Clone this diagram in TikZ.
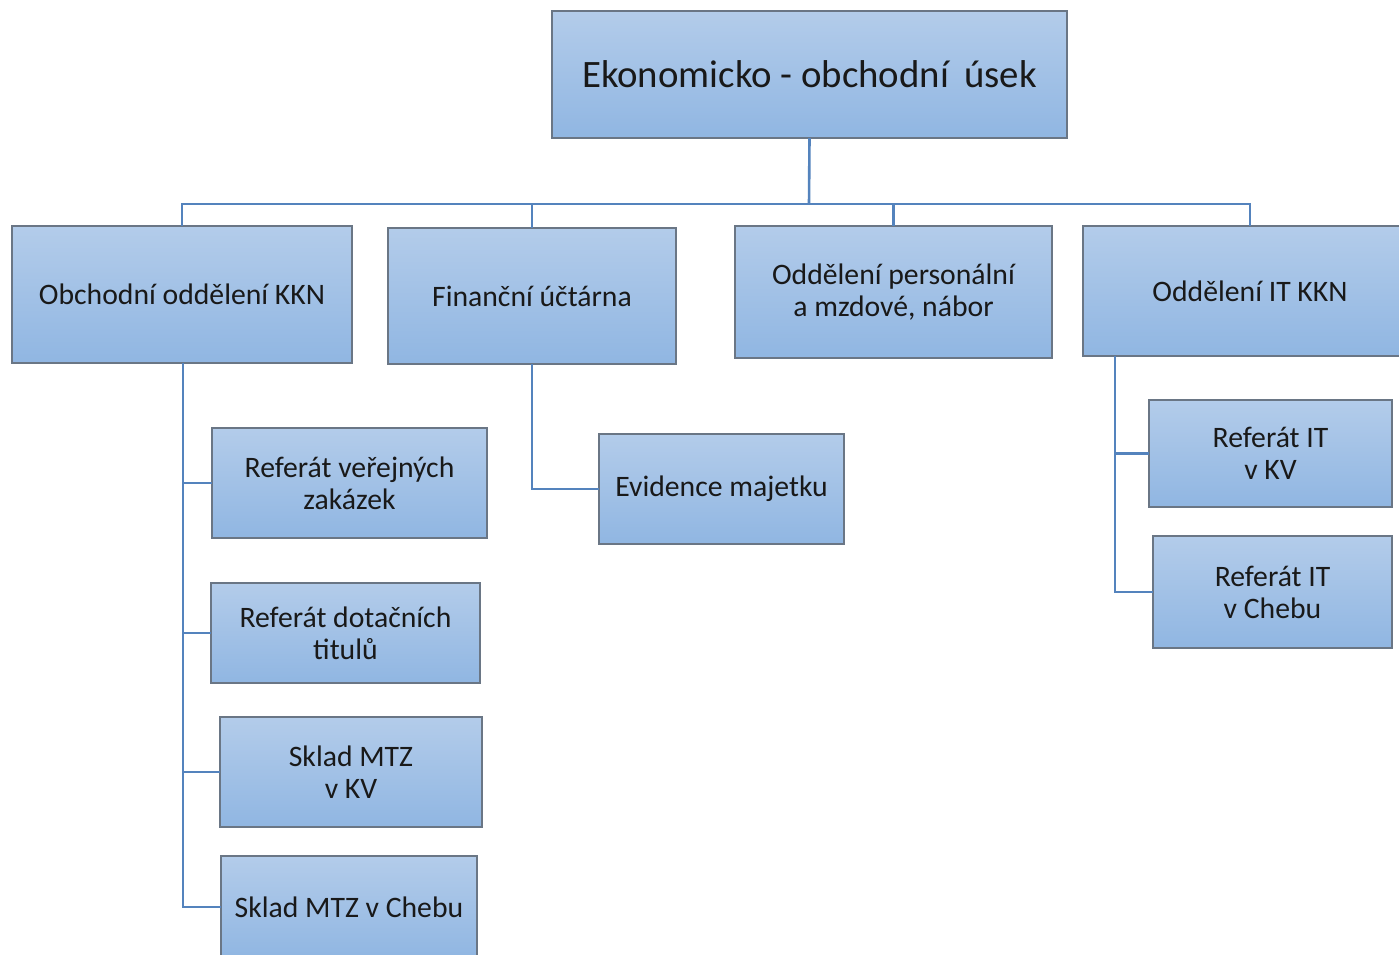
\documentclass[tikz,border=0pt]{standalone}
\usepackage{fontspec}
\setmainfont{Carlito}
\definecolor{boxtop}{HTML}{B3CCEA}
\definecolor{boxbot}{HTML}{90B6E2}
\definecolor{boxline}{HTML}{6A7685}
\definecolor{conncol}{HTML}{5483BD}
\begin{document}
\begin{tikzpicture}[x=1pt,y=-1pt,
  orgbox/.style={rectangle, draw=boxline, line width=1.5pt, top color=boxtop, bottom color=boxbot,
    align=center, font=\fontsize{29.7}{32}\selectfont, text=black!90, inner sep=0pt, outer sep=0pt},
  conn/.style={draw=conncol, line width=2.6pt}]
\clip (0,0) rectangle (1399,954);
\fill[white] (0,0) rectangle (1399,954);
\node[orgbox, minimum width=515pt, minimum height=127pt, font=\fontsize{38.8}{42}\selectfont] (top) at (809.5,74.5) {\raisebox{-2pt}{Ekonomicko - obchodní\, úsek}};
\node[orgbox, minimum width=340pt, minimum height=137pt] (n1) at (182,294.5) {Obchodní oddělení KKN};
\node[orgbox, minimum width=288pt, minimum height=136pt] (n2) at (532,296) {Finanční účtárna};
\node[orgbox, minimum width=317pt, minimum height=132pt] (n3) at (893.5,292) {Oddělení personální\\a mzdové, nábor};
\node[orgbox, minimum width=334pt, minimum height=130pt] (n4) at (1250,291) {Oddělení IT KKN};
\node[orgbox, minimum width=275pt, minimum height=110pt] (c1) at (349.5,483) {Referát veřejných\\zakázek};
\node[orgbox, minimum width=269pt, minimum height=100pt] (c2) at (345.5,633) {Referát dotačních\\titulů};
\node[orgbox, minimum width=262pt, minimum height=110pt] (c3) at (351,772) {Sklad MTZ\\v KV};
\node[orgbox, minimum width=256pt, minimum height=102pt] (c4) at (349,907) {Sklad MTZ v Chebu};
\node[orgbox, minimum width=245pt, minimum height=110pt] (ev) at (721.5,489) {Evidence majetku};
\node[orgbox, minimum width=243pt, minimum height=107pt] (it1) at (1270.5,453.5) {Referát IT\\v KV};
\node[orgbox, minimum width=239pt, minimum height=112pt] (it2) at (1272.5,592) {Referát IT\\v Chebu};
\coordinate (bus) at (809,204);
\draw[conn] (top.south) -- (bus);
\draw[conn] (n1.north) |- (bus);
\draw[conn] (n2.north) |- (bus);
\draw[conn] (n3.north) |- (bus);
\draw[conn] (n4.north) |- (bus);
\draw[conn] ([xshift=1pt]n1.south) |- (c1.west);
\draw[conn] ([xshift=1pt]n1.south) |- (c2.west);
\draw[conn] ([xshift=1pt]n1.south) |- (c3.west);
\draw[conn] ([xshift=1pt]n1.south) |- (c4.west);
\draw[conn] (n2.south) |- (ev.west);
\draw[conn] ([xshift=32pt]n4.south west) |- (it1.west);
\draw[conn] ([xshift=32pt]n4.south west) |- (it2.west);
\end{tikzpicture}
\end{document}
